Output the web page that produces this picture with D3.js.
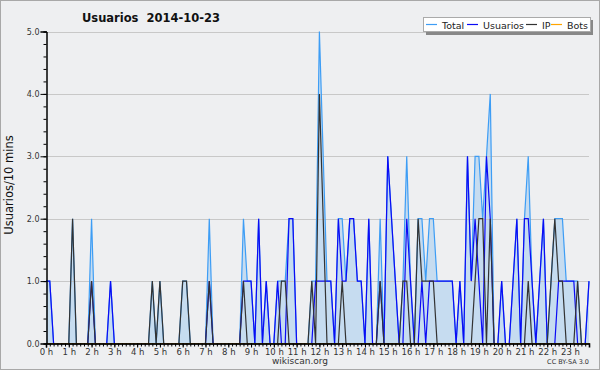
<!DOCTYPE html>
<html><head><meta charset="utf-8">
<script src="https://cdn.jsdelivr.net/npm/d3@7/dist/d3.min.js"></script>
<style>
body{margin:0;background:#fff}
svg text{font-family:"DejaVu Sans",Verdana,sans-serif}
</style></head><body>
<div class="chart"></div>
<script>
// one value every 10 min, one row per hour
var total = [
  1,1,0,0,0,0, 0,2,0,0,0,0, 2,0,0,0,0,1, 0,0,0,0,0,0,
  0,0,0,0,1,0, 1,0,0,0,0,0, 1,1,0,0,0,0, 0,2,0,0,0,0,
  0,0,0,0,2,1, 1,0,2,0,1,0, 0,1,1,1,2,2, 0,0,0,0,1,1,
  5,3,1,1,0,2, 2,1,2,2,1,1, 0,2,0,0,2,0, 3,2,1,0,1,3,
  1,0,2,2,1,2, 2,1,1,1,1,1, 0,1,0,3,1,3, 3,2,3,4,0,0,
  1,0,0,1,2,0, 2,3,1,0,1,2, 0,1,2,2,2,1, 1,1,1,0,0,1
];
var usuarios = [
  1,1,0,0,0,0, 0,0,0,0,0,0, 1,0,0,0,0,1, 0,0,0,0,0,0,
  0,0,0,0,0,0, 0,0,0,0,0,0, 0,0,0,0,0,0, 0,1,0,0,0,0,
  0,0,0,0,1,1, 1,0,2,0,1,0, 0,1,0,0,2,2, 0,0,0,0,0,1,
  1,1,1,1,0,2, 1,1,2,2,1,1, 0,2,0,0,1,0, 3,2,1,0,0,2,
  1,0,0,1,0,1, 1,1,1,1,1,1, 0,1,0,3,1,2, 1,0,3,2,0,0,
  1,0,0,1,2,0, 2,2,1,0,1,2, 0,0,0,1,1,1, 1,1,0,0,0,1
];
var ip = [
  0,0,0,0,0,0, 0,2,0,0,0,0, 1,0,0,0,0,0, 0,0,0,0,0,0,
  0,0,0,0,1,0, 1,0,0,0,0,0, 1,1,0,0,0,0, 0,1,0,0,0,0,
  0,0,0,0,1,0, 0,0,0,0,0,0, 0,0,1,1,0,0, 0,0,0,0,1,0,
  4,2,0,0,0,0, 1,0,0,0,0,0, 0,0,0,0,1,0, 0,0,0,0,1,1,
  0,0,2,1,1,1, 1,0,0,0,0,0, 0,0,0,0,0,1, 2,2,0,2,0,0,
  0,0,0,0,0,0, 0,1,0,0,0,0, 0,1,2,1,1,0, 0,0,1,0,0,0
];
var bots = d3.range(144).map(function(){return 0});
var hourLabels = d3.range(24).map(function(h){return h+" h"});
var yTicks = [0,1,2,3,4,5];

var ChartView = function(){
  this.w = 600; this.h = 370;
  this.x = d3.scaleLinear().domain([0,143]).range([46,589]);
  this.y = d3.scaleLinear().domain([0,5]).range([343.5,31.5]);
  this.series = [
    {name:"Total",values:total,color:"#3d9df5"},
    {name:"Usuarios",values:usuarios,color:"#0b0bf5"},
    {name:"IP",values:ip,color:"#333333"},
    {name:"Bots",values:bots,color:"#ffa500"}
  ];
  this.render();
}

ChartView.prototype = {
  addFrame:function(svg){
    svg.append("rect").attr("x",0.5).attr("y",0.5).attr("width",this.w-1).attr("height",this.h-1)
      .style("fill","#eeeff1").style("stroke","#a8a8a8");
    svg.append("text").attr("x",151).attr("y",22).attr("text-anchor","middle")
      .style("font-size","11.5px").style("font-weight","bold").style("fill","#111")
      .attr("xml:space","preserve").text("Usuarios  2014-10-23");
    svg.append("text").attr("transform","translate(13,185) rotate(-90)").attr("text-anchor","middle")
      .style("font-size","11.5px").style("fill","#111").text("Usuarios/10 mins");
    svg.append("text").attr("x",300).attr("y",364).attr("text-anchor","middle")
      .style("font-size","9px").style("fill","#333").text("wikiscan.org");
    svg.append("text").attr("x",589).attr("y",364).attr("text-anchor","end")
      .style("font-size","6.5px").style("fill","#333").text("CC BY-SA 3.0");
  },
  addArea:function(svg){
    var x = this.x, y = this.y;
    var area = d3.area().x(function(d,i){return x(i)}).y0(y(0)).y1(function(d){return y(d)});
    svg.append("path").datum(total).attr("d",area).style("fill","#c6dcf0");
  },
  addGrid:function(svg){
    var x = this.x, y = this.y;
    svg.selectAll(".grid").data(yTicks.filter(function(d){return d>0})).enter().append("line")
      .attr("class","grid")
      .attr("x1",x(0)).attr("x2",x(143))
      .attr("y1",function(d){return Math.round(y(d))+0.5})
      .attr("y2",function(d){return Math.round(y(d))+0.5})
      .style("stroke","#c8c8c8");
  },
  addLines:function(svg){
    var x = this.x, y = this.y;
    var line = d3.line().x(function(d,i){return x(i)}).y(function(d){return y(d)});
    svg.selectAll(".serie").data(this.series).enter().append("path")
      .attr("class","serie")
      .attr("d",function(d){return line(d.values)})
      .style("fill","none").style("stroke",function(d){return d.color}).style("stroke-width",1.2);
  },
  addAxes:function(svg){
    var x = this.x, y = this.y;
    var yAxis = d3.axisLeft(y).tickValues(yTicks).tickSize(6).tickFormat(d3.format(".1f"));
    var ga = svg.append("g").attr("transform","translate(46.5,0)").call(yAxis);
    ga.append("g").call(d3.axisLeft(y).tickValues(d3.range(0,5.01,0.2)).tickSize(3).tickFormat(""));
    var xAxis = d3.axisBottom(x).tickValues(d3.range(0,144,6)).tickSize(4)
      .tickFormat(function(d){return hourLabels[d/6]});
    var gx = svg.append("g").attr("transform","translate(0,343.5)").call(xAxis);
    gx.append("g").call(d3.axisBottom(x).tickValues(d3.range(0,144)).tickSize(3).tickFormat(""));
    svg.selectAll(".domain").style("stroke","#000");
    gx.select(".domain").style("stroke-width",1.6);
    svg.selectAll(".tick line").style("stroke","#000");
    ga.selectAll("text").style("font-size","8px").style("fill","#333").attr("x",-7);
    gx.selectAll("text").style("font-size","8.5px").style("fill","#333").attr("y",5);
  },
  addLegend:function(svg){
    var lg = svg.append("g").attr("transform","translate(423,17)");
    lg.append("rect").attr("x",3).attr("y",3).attr("width",167).attr("height",15).style("fill","#888");
    lg.append("rect").attr("x",0.5).attr("y",0.5).attr("width",167).attr("height",14)
      .style("fill","#fff").style("stroke","#aaa");
    var offs = [3,44,103,128];
    var items = lg.selectAll(".item").data(this.series).enter().append("g")
      .attr("class","item")
      .attr("transform",function(d,i){return "translate("+offs[i]+",0)"});
    items.append("line").attr("x1",0).attr("x2",11).attr("y1",7.5).attr("y2",7.5)
      .style("stroke",function(d){return d.color}).style("stroke-width",1.2);
    items.append("text").attr("x",16).attr("y",11.5).style("font-size","9.5px").style("fill","#222")
      .text(function(d){return d.name});
  },
  render:function(){
    var svg = d3.select(".chart").append("svg").attr("width",this.w).attr("height",this.h);
    this.addFrame(svg);
    this.addArea(svg);
    this.addGrid(svg);
    this.addLines(svg);
    this.addAxes(svg);
    this.addLegend(svg);
  }
}

new ChartView();
</script>
</body></html>
